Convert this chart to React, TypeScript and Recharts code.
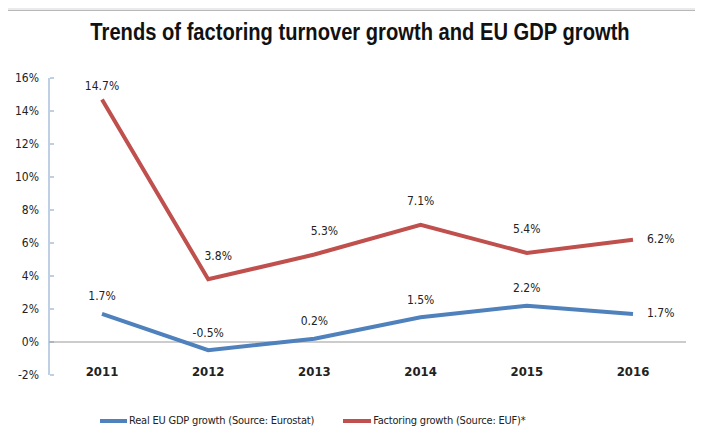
import React from 'react';
import { LineChart, Line, XAxis, YAxis, ReferenceLine, LabelList } from 'recharts';

const years = ['2011', '2012', '2013', '2014', '2015', '2016'];
const gdpGrowth = [1.7, -0.5, 0.2, 1.5, 2.2, 1.7];
const factoringGrowth = [14.7, 3.8, 5.3, 7.1, 5.4, 6.2];
const yTicks = [-2, 0, 2, 4, 6, 8, 10, 12, 14, 16];

const data = years.map((year, i) => ({
  year,
  gdp: gdpGrowth[i],
  factoring: factoringGrowth[i],
}));

const FONT = '"DejaVu Sans Condensed", "Liberation Sans", Arial, sans-serif';
const BLUE = '#4f81bd';
const RED = '#c0504d';
const AXIS_BLUE = '#7f9fc9';

// ticks sit inside the axis (Excel style), labels right-aligned to its left
const YTick = (props: any) => {
  const { x, y, payload } = props;
  return (
    <g>
      <line x1={x + 9} x2={x + 13} y1={y} y2={y} stroke={AXIS_BLUE} />
      <text x={x - 2} y={y} textAnchor="end" dominantBaseline="middle" fontSize={12} fill="#222" fontFamily={FONT}>
        {payload.value}%
      </text>
    </g>
  );
};

const XTick = (props: any) => {
  const { x, y, payload } = props;
  return (
    <text x={x} y={y - 11} textAnchor="middle" dominantBaseline="middle" fontSize={13} fontWeight="bold" fill="#222" fontFamily={FONT}>
      {payload.value}
    </text>
  );
};

// labels above the points, last one to the right; a few nudged like in the source
const makeLabel = (last: number, dy: number, nudge: Record<number, [number, number]> = {}) => (props: any) => {
  const { x, y, value, index } = props;
  const isLast = index === last;
  const [nx, ny] = nudge[index] || [0, 0];
  return (
    <text
      x={(isLast ? x + 14 : x) + nx}
      y={(isLast ? y : y + dy) + ny}
      textAnchor={isLast ? 'start' : 'middle'}
      dominantBaseline="middle"
      fontSize={12}
      fill="#222"
      fontFamily={FONT}
    >
      {value.toFixed(1)}%
    </text>
  );
};

export default function App() {
  return (
    <div style={{ position: 'relative', width: 703, height: 448, margin: -8, background: '#e8eaed', overflow: 'hidden' }}>
      <div
        style={{
          position: 'absolute',
          left: 6,
          top: 10,
          width: 720,
          height: 460,
          background: '#fff',
          borderLeft: '1px solid #b8b8b8',
          borderTop: '1px solid #b8b8b8',
        }}
      />
      <svg style={{ position: 'absolute', left: 0, top: 0 }} width={703} height={80}>
        {/* Calibri-like narrow bold title: squeeze Liberation Sans horizontally */}
        <text
          transform="translate(360,40) scale(0.84,1)"
          x={0}
          y={0}
          textAnchor="middle"
          fontFamily='"Liberation Sans", Arial, sans-serif'
          fontWeight="bold"
          fontSize={24}
          fill="#111"
        >
          Trends of factoring turnover growth and EU GDP growth
        </text>
      </svg>
      <div style={{ position: 'absolute', left: 0, top: 0 }}>
        <LineChart width={703} height={448} data={data} margin={{ top: 78, right: 17, bottom: 72, left: 9 }}>
          <XAxis
            dataKey="year"
            height={1}
            axisLine={false}
            tickLine={false}
            tick={<XTick />}
            interval={0}
            padding={{ left: 53, right: 53 }}
          />
          <YAxis
            width={40}
            domain={[-2, 16]}
            ticks={yTicks}
            interval={0}
            axisLine={{ stroke: AXIS_BLUE }}
            tickLine={false}
            tick={<YTick />}
          />
          <ReferenceLine y={0} stroke="#999" />
          <Line dataKey="gdp" stroke={BLUE} strokeWidth={4} dot={false} isAnimationActive={false}>
            <LabelList dataKey="gdp" content={makeLabel(5, -17)} />
          </Line>
          <Line dataKey="factoring" stroke={RED} strokeWidth={4} dot={false} isAnimationActive={false}>
            <LabelList dataKey="factoring" content={makeLabel(5, -23, { 0: [0, 10], 1: [10, 0], 2: [10, 0] })} />
          </Line>
        </LineChart>
      </div>
      <div
        style={{
          position: 'absolute',
          top: 414,
          left: 100,
          display: 'flex',
          alignItems: 'center',
          fontFamily: FONT,
          fontSize: 11,
          letterSpacing: -0.2,
          color: '#222',
        }}
      >
        <span style={{ display: 'inline-block', width: 27, height: 4, background: BLUE, marginRight: 2 }} />
        <span>Real EU GDP growth (Source: Eurostat)</span>
        <span style={{ display: 'inline-block', width: 28, height: 4, background: RED, marginLeft: 29, marginRight: 2 }} />
        <span>Factoring growth (Source: EUF)*</span>
      </div>
    </div>
  );
}
